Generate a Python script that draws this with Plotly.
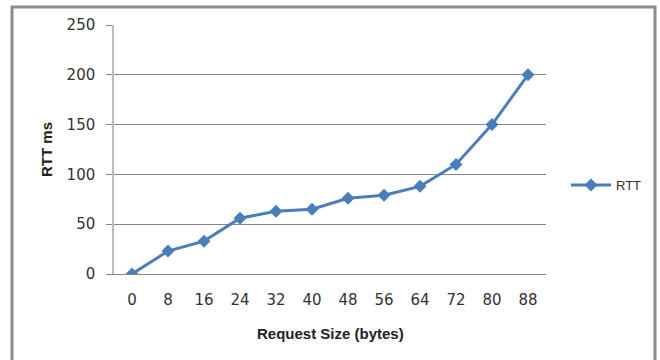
import plotly.graph_objects as go

request_size = ["0", "8", "16", "24", "32", "40", "48", "56", "64", "72", "80", "88"]
rtt_ms = [0, 23, 33, 56, 63, 65, 76, 79, 88, 110, 150, 200]
y_ticks = [0, 50, 100, 150, 200, 250]

L, R, T, B = 114, 546, 25, 274
PW, PH = R - L, B - T

fig = go.Figure()
fig.add_trace(go.Scatter(
    x=request_size, y=rtt_ms, name="RTT", mode="lines+markers",
    line=dict(color="#4a7ebb", width=3),
    marker=dict(symbol="diamond", size=10, color="#4a7ebb"),
))

fig.update_layout(
    width=660, height=360,
    paper_bgcolor="white", plot_bgcolor="white",
    margin=dict(l=L, r=660 - R, t=T, b=360 - B, autoexpand=False),
    font=dict(family="DejaVu Sans, sans-serif", size=15, color="#333"),
    showlegend=True,
    legend=dict(x=(566 - L) / PW, y=(B - 185) / PH, xanchor="left", yanchor="middle",
                font=dict(family="Liberation Sans, Arial, sans-serif", size=13, color="#333"),
                bgcolor="rgba(0,0,0,0)", itemwidth=40),
    xaxis=dict(
        type="category", range=[-0.5, 11.5], automargin=False,
        showgrid=False, showline=True, linecolor="#868686", linewidth=1,
        ticks="", ticklabelstandoff=12,
        tickfont=dict(size=15, color="#333"),
        zeroline=False,
    ),
    yaxis=dict(
        range=[0, 250], tickvals=y_ticks, automargin=False,
        showgrid=True, gridcolor="#868686", gridwidth=1,
        showline=True, linecolor="#bdbdbd", linewidth=1.5,
        ticks="outside", ticklen=6, tickcolor="#868686", ticklabelstandoff=8,
        tickfont=dict(size=15, color="#333"),
        zeroline=False,
    ),
    annotations=[
        dict(text="<b>Request Size (bytes)</b>", xref="paper", yref="paper",
             x=0.5, y=(B - 333) / PH, xanchor="center", yanchor="middle", showarrow=False,
             font=dict(family="Liberation Sans, Arial, sans-serif", size=15, color="#222")),
        dict(text="<b>RTT ms</b>", xref="paper", yref="paper", textangle=-90,
             x=(46 - L) / PW, y=(B - 150) / PH, xanchor="center", yanchor="middle", showarrow=False,
             font=dict(family="Liberation Sans, Arial, sans-serif", size=15, color="#222")),
    ],
    shapes=[dict(type="rect", xref="paper", yref="paper",
                 x0=(12 - L) / PW, x1=(655 - L) / PW,
                 y0=-0.5, y1=(B - 7) / PH,
                 line=dict(color="#8c8c8c", width=3), fillcolor="rgba(0,0,0,0)",
                 layer="below")],
)

fig.write_html("out.html", config={"displayModeBar": False},
               post_script="document.body.style.margin='0';document.body.style.overflow='hidden';")
